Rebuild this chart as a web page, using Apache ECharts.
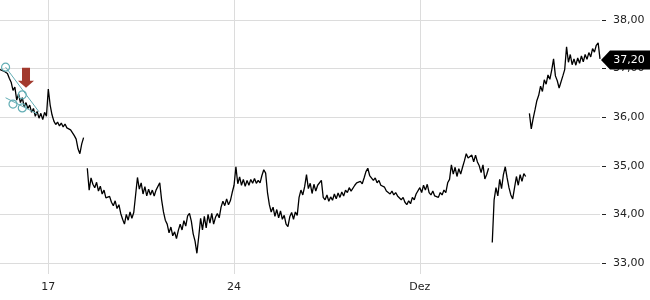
<!DOCTYPE html>
<html><head><meta charset="utf-8">
<script src="https://cdn.jsdelivr.net/npm/echarts@6/dist/echarts.min.js"></script>
<style>html,body{margin:0;padding:0;background:#fff}#c{width:650px;height:300px}</style>
</head><body><div id="c"></div>
<script>
// trading days and intraday slots per day
const days = ['13.11.','14.11.','17.11.','18.11.','19.11.','20.11.','21.11.','24.11.','25.11.','26.11.','27.11.','28.11.','01.12.','02.12.','03.12.','04.12.','05.12.'];
const slotsPerDay = [6,20,20,20,20,20,20,20,20,20,20,20,20,20,20,20,18];
const tickDays = ['17.11.','24.11.','01.12.'];
const tickLabels = ['17','24','Dez'];

// prices (EUR), intraday
const weekA = [36.98,37.02,36.95,36.99,36.90,36.80,36.72,36.55,36.62,36.35,36.48,36.30,36.40,36.22,36.30,36.18,36.25,36.10,36.18,36.02,36.12,35.98,36.08,35.95,36.10,36.02];
const weekB = [
 36.58,36.25,36.05,35.92,35.85,35.90,35.82,35.88,35.80,35.86,
 35.78,35.82,35.74,35.70,35.62,35.55,35.35,35.25,35.45,35.58,
 null,34.95,34.50,34.75,34.62,34.55,34.66,34.48,34.58,34.42,
 34.50,34.34,34.30,34.37,34.25,34.18,34.28,34.12,34.20,34.02,
 33.90,33.80,34.00,33.88,34.05,33.92,34.04,34.40,34.76,34.52,
 34.65,34.42,34.57,34.38,34.52,34.40,34.50,34.38,34.50,34.52,
 34.65,34.30,34.05,33.88,33.80,33.62,33.74,33.56,33.64,33.50,
 33.67,33.80,33.68,33.87,33.76,33.97,34.02,33.86,33.60,33.45,
 33.20,33.55,33.92,33.68,33.96,33.72,34.00,33.82,34.02,33.80,
 33.94,34.02,33.93,34.15,34.27,34.18,34.32,34.20,34.28,34.45];
const weekC = [
 34.60,34.98,34.63,34.77,34.60,34.72,34.58,34.70,34.60,34.72,
 34.64,34.74,34.64,34.70,34.65,34.80,34.92,34.85,34.45,34.20,
 34.05,34.15,33.96,34.10,33.93,34.07,33.90,33.98,33.80,33.75,
 33.95,34.04,33.90,34.05,33.98,34.35,34.50,34.40,34.57,34.82,
 34.53,34.64,34.43,34.62,34.48,34.60,34.62,34.70,34.35,34.30,
 34.40,34.27,34.36,34.29,34.42,34.32,34.44,34.35,34.46,34.38,
 34.50,34.45,34.55,34.48,34.52,34.60,34.65,34.62,34.68,34.63,
 34.75,34.88,34.95,34.80,34.82,34.70,34.75,34.65,34.70,34.60,
 34.64,34.56,34.48,34.52,34.42,34.48,34.40,34.45,34.38,34.42,
 34.30,34.35,34.25,34.20,34.28,34.22,34.35,34.30,34.42,34.38];
const weekD = [
 34.55,34.45,34.60,34.50,34.62,34.45,34.40,34.48,34.38,34.42,
 34.35,34.45,34.40,34.50,34.45,34.65,34.72,35.02,34.83,34.97,
 34.78,34.94,34.83,34.97,35.10,35.25,35.16,35.12,35.22,35.08,
 35.22,35.08,35.00,34.86,35.02,34.73,34.82,34.95,null,33.42,
 34.30,34.55,34.38,34.72,34.53,34.82,34.98,34.75,34.55,34.40,
 34.32,34.55,34.78,34.60,34.82,34.68,34.84,34.78,null,36.08,
 35.76,35.97,36.15,36.34,36.45,36.64,36.53,36.77,36.68,36.87,
 36.78,36.97,37.20,36.85,36.75,36.60,36.58,36.85,36.98,37.45,
 37.13,37.29,37.08,37.20,37.07,37.22,37.11,37.26,37.14,37.29,
 37.19,37.33,37.24,37.41,37.34,37.48,37.53,37.20];
const lastPrice = 37.20;

// chart annotations (slot index, price)
const arrowAt = [14, 36.81];
const trendLines = [[[3,37.03],[21,36.11]], [[3,36.40],[20,36.07]]];
const handles = [[3,37.03],[12,36.46],[7,36.27],[12,36.19]];

const categories = [];
const dayStart = {};
days.forEach((d,k)=>{ dayStart[d]=categories.length; for(let s=0;s<slotsPerDay[k];s++) categories.push(d+' '+s); });
const tickIdx = tickDays.map(d=>dayStart[d]);
const prices = weekA.concat(weekB, weekC, weekD);

const FONT = 'DejaVu Sans';
const GRID = '#dcdcdc';
const TEAL = '#62adb4';
const fmt = v => v.toFixed(2).replace('.', ',');

const chart = echarts.init(document.getElementById('c'), null, {renderer:'canvas'});
chart.setOption({
  animation:false,
  textStyle:{fontFamily:FONT},
  grid:[
    {left:0, width:600, top:20, height:243},
    {left:0, width:600, top:0, height:274}
  ],
  xAxis:[
    {gridIndex:0, type:'category', data:categories, boundaryGap:false, show:false},
    {gridIndex:1, type:'category', data:categories, boundaryGap:false,
      axisLine:{show:false}, axisTick:{show:false},
      splitLine:{show:true, interval:(i)=>tickIdx.includes(i), lineStyle:{color:GRID, width:1}},
      axisLabel:{interval:(i)=>tickIdx.includes(i), formatter:(v,i)=>tickLabels[tickIdx.indexOf(i)],
        margin:8, fontSize:11, fontFamily:FONT, color:'#222'}},
    {gridIndex:1, type:'category', data:categories, boundaryGap:false, offset:20,
      axisLine:{show:false}, axisLabel:{show:false}, splitLine:{show:false},
      axisTick:{show:true, interval:(i)=>tickIdx.includes(i), length:3, lineStyle:{color:'#222'}}}
  ],
  yAxis:[
    {gridIndex:0, type:'value', position:'right', min:33, max:38, interval:1, offset:2,
      axisLine:{show:false},
      axisTick:{show:true, length:4, lineStyle:{color:'#222'}},
      axisLabel:{margin:11, fontSize:11, fontFamily:FONT, color:'#222', formatter:fmt},
      splitLine:{show:true, lineStyle:{color:GRID, width:1}}},
    {gridIndex:1, type:'value', min:0, max:1, show:false}
  ],
  series:[{
    type:'line', xAxisIndex:0, yAxisIndex:0, data:prices,
    showSymbol:false, symbol:'none', connectNulls:false,
    lineStyle:{color:'#000', width:1.3},
    markLine:{
      silent:true, symbol:['none','none'], label:{show:false},
      lineStyle:{color:TEAL, width:1, type:'solid'},
      data: trendLines.map(([a,b])=>[{coord:a},{coord:b}])
    },
    markPoint:{
      silent:true,
      data:[
        ...handles.map(h=>({coord:h, symbol:'circle', symbolSize:8,
          itemStyle:{color:'rgba(0,0,0,0)', borderColor:TEAL, borderWidth:1.2}, label:{show:false}})),
        {coord:arrowAt, symbol:'path://M4,0 L12,0 L12,13 L16,13 L8,20 L0,13 L4,13 Z',
          symbolSize:[16,20], itemStyle:{color:'#a23a2e'}, label:{show:false}},
        {coord:[categories.length-1, lastPrice], symbol:'path://M0,9.5 L9,0 L50,0 L50,19 L9,19 Z',
          symbolSize:[50,19], symbolOffset:[26,1], itemStyle:{color:'#000'},
          label:{show:true, position:'inside', formatter:fmt(lastPrice), color:'#fff',
            fontSize:11, fontFamily:FONT, offset:[3,0]}}
      ]
    }
  }]
});
</script></body></html>
